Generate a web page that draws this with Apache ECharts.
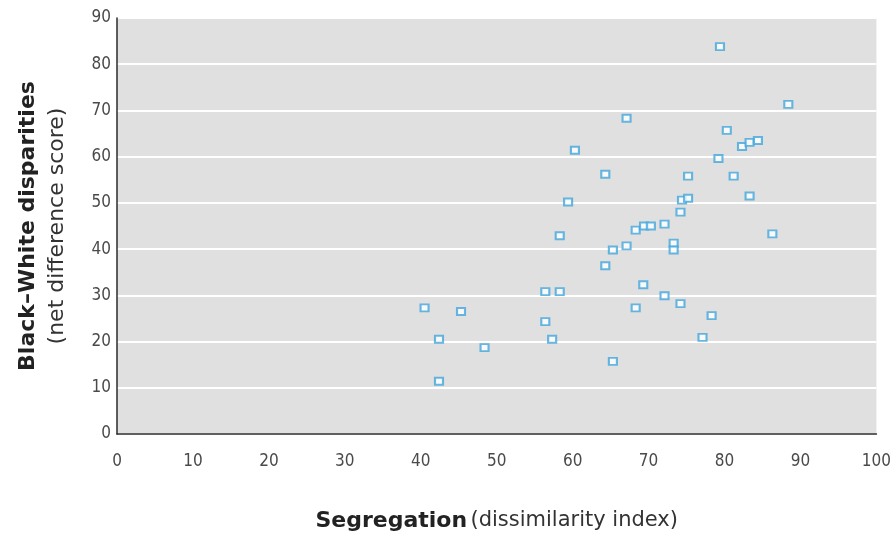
<!DOCTYPE html>
<html>
<head>
<meta charset="utf-8">
<script src="https://cdn.jsdelivr.net/npm/echarts@6/dist/echarts.min.js"></script>
<style>
  html, body { margin: 0; padding: 0; background: #ffffff; }
  #chart { width: 894px; height: 537px; }
</style>
</head>
<body>
<div id="chart"></div>
<script>
// Segregation (dissimilarity index) for each metropolitan area
const segregation = [
  40.5, 42.4, 42.4, 45.3, 48.4, 56.4, 56.4, 57.3, 58.3, 58.3,
  59.4, 60.3, 64.3, 64.3, 65.3, 65.3, 67.1, 67.1, 68.3, 68.3,
  69.3, 69.4, 70.3, 72.1, 72.1, 73.3, 73.3, 74.2, 74.2, 74.4,
  75.2, 75.2, 77.1, 78.3, 79.2, 79.4, 80.3, 81.2, 82.3, 83.3,
  83.3, 84.4, 86.3, 88.4
];
// Black–White disparities (net difference score), same order
const disparity = [
  27.3, 20.5, 11.4, 26.5, 18.7, 30.8, 24.3, 20.5, 30.8, 42.9,
  50.2, 61.4, 56.2, 36.4, 39.8, 15.7, 68.3, 40.7, 44.1, 27.3,
  32.3, 45.0, 45.0, 45.4, 29.9, 41.3, 39.8, 48.0, 28.2, 50.6,
  51.0, 55.8, 20.9, 25.6, 59.6, 83.8, 65.7, 55.8, 62.2, 63.1,
  51.5, 63.5, 43.3, 71.3
];
const xTicks = [0, 10, 20, 30, 40, 50, 60, 70, 80, 90, 100];
const yTicks = [0, 10, 20, 30, 40, 50, 60, 70, 80, 90];

const points = segregation.map((x, i) => [x, disparity[i]]);
const narrow = '"Liberation Sans Narrow", "DejaVu Sans Condensed", sans-serif';
const wide = '"DejaVu Sans", sans-serif';

const chart = echarts.init(document.getElementById('chart'));
chart.setOption({
  animation: false,
  backgroundColor: '#ffffff',
  grid: {
    left: 117, right: 16, top: 18, bottom: 101,
    show: true, backgroundColor: '#e0e0e0', borderWidth: 0
  },
  xAxis: {
    type: 'value',
    min: xTicks[0], max: xTicks[xTicks.length - 1], interval: 10,
    axisLine: { show: true, lineStyle: { color: '#2b2b2b', width: 1.5 } },
    axisTick: { show: false },
    splitLine: { show: false },
    axisLabel: { color: '#4a4a4a', fontFamily: narrow, fontSize: 17, margin: 19 },
    name: '{b|Segregation} {r|(dissimilarity index)}',
    nameLocation: 'middle',
    nameGap: 76,
    nameTextStyle: {
      rich: {
        b: { fontFamily: wide, fontWeight: 'bold', fontSize: 22, color: '#222' },
        r: { fontFamily: wide, fontSize: 21, color: '#333' }
      }
    }
  },
  yAxis: {
    type: 'value',
    min: yTicks[0], max: yTicks[yTicks.length - 1], interval: 10,
    axisLine: { show: true, lineStyle: { color: '#2b2b2b', width: 1.5 } },
    axisTick: { show: false },
    splitLine: { show: true, lineStyle: { color: '#ffffff', width: 2 } },
    axisLabel: { color: '#4a4a4a', fontFamily: narrow, fontSize: 17, margin: 6 },
    name: '{b|Black–White disparities}\n{r|(net difference score)}',
    nameLocation: 'middle',
    nameGap: 46,
    nameTextStyle: {
      align: 'center',
      rich: {
        b: { fontFamily: wide, fontWeight: 'bold', fontSize: 22, color: '#222', lineHeight: 30, align: 'center' },
        r: { fontFamily: wide, fontSize: 22, color: '#333', lineHeight: 28, align: 'center' }
      }
    }
  },
  series: [{
    type: 'scatter',
    data: points,
    symbol: 'emptyRect',
    symbolSize: [8, 7],
    itemStyle: { color: '#42a6dc', borderColor: '#42a6dc', borderWidth: 1.2 }
  }]
});
</script>
</body>
</html>
